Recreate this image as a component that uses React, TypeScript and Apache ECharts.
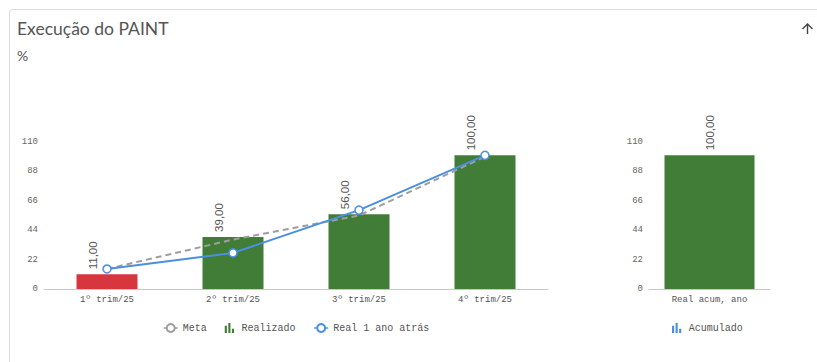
import React, { useEffect, useRef } from "react";
import * as echarts from "echarts";

const categories = ["1º trim/25", "2º trim/25", "3º trim/25", "4º trim/25"];
const realizado = [11, 39, 56, 100];
const meta = [15, 37, 55, 99];
const realAnoAnterior = [15, 27, 59, 100];
const accCategories = ["Real acum, ano"];
const acumulado = [100];

const GREEN = "#417d37";
const RED = "#d8363f";
const BLUE = "#4a8fe2";
const GRAY = "#9e9e9e";
const MONO = "'Liberation Mono', 'DejaVu Sans Mono', monospace";
const BAR_ICON = "path://M0,4h3v10h-3z M5,0h3v14h-3z M10,8h3v6h-3z";

const fmt = (v: number) => v.toFixed(2).replace(".", ",");

export default function App() {
  const ref = useRef<HTMLDivElement>(null);
  useEffect(() => {
    const chart = echarts.init(ref.current!, null, { renderer: "svg" });
    const yAxisBase = {
      type: "value",
      min: 0,
      max: 110,
      interval: 22,
      axisLine: { show: false },
      axisTick: { show: false },
      splitLine: { show: false },
      axisLabel: { color: "#666", fontFamily: MONO, fontSize: 9, margin: 6 },
    };
    const xAxisBase = {
      type: "category",
      axisLine: { lineStyle: { color: "#c8c8c8" } },
      axisTick: { show: false },
      axisLabel: { color: "#555", fontFamily: MONO, fontSize: 9, margin: 6 },
    };
    const barLabel = {
      show: true,
      position: "top",
      rotate: 90,
      distance: 5,
      align: "left",
      verticalAlign: "middle",
      color: "#555",
      fontSize: 11.5,
      fontFamily: "'Liberation Sans', Arial, sans-serif",
      formatter: (p: any) => fmt(p.value),
    };
    chart.setOption({
      animation: false,
      graphic: [
        {
          type: "text",
          left: 17,
          top: 19,
          style: { text: "Execução do PAINT", fill: "#555", font: "17.5px Lato, 'Open Sans', sans-serif" },
        },
        {
          type: "text",
          left: 17,
          top: 48,
          style: { text: "%", fill: "#555", font: "14px Lato, 'Open Sans', sans-serif" },
        },
        {
          type: "polyline",
          shape: { points: [[807.5, 24], [807.5, 34]] },
          style: { stroke: "#444", lineWidth: 1.4, fill: null },
        },
        {
          type: "polyline",
          shape: { points: [[802.5, 29], [807.5, 24], [812.5, 29]] },
          style: { stroke: "#444", lineWidth: 1.4, fill: null },
        },
      ],
      legend: [
        {
          left: 163,
          top: 323,
          padding: 0,
          itemWidth: 14,
          itemHeight: 10,
          itemGap: 18,
          textStyle: { color: "#555", fontFamily: MONO, fontSize: 10 },
          data: [
            { name: "Meta", lineStyle: { type: "solid", width: 1.5 } },
            { name: "Realizado", icon: BAR_ICON, itemStyle: { color: GREEN } },
            { name: "Real 1 ano atrás", lineStyle: { width: 1.5 } },
          ],
        },
        {
          left: 672,
          top: 323,
          padding: 0,
          itemWidth: 14,
          itemHeight: 10,
          textStyle: { color: "#555", fontFamily: MONO, fontSize: 10 },
          data: [{ name: "Acumulado", icon: BAR_ICON, itemStyle: { color: BLUE } }],
        },
      ],
      grid: [
        { left: 44, top: 142, width: 504, height: 147, containLabel: false },
        { left: 649, top: 142, width: 121, height: 147, containLabel: false },
      ],
      xAxis: [
        { ...xAxisBase, gridIndex: 0, data: categories },
        { ...xAxisBase, gridIndex: 1, data: accCategories },
      ],
      yAxis: [
        { ...yAxisBase, gridIndex: 0 },
        { ...yAxisBase, gridIndex: 1 },
      ],
      series: [
        {
          name: "Realizado",
          type: "bar",
          xAxisIndex: 0,
          yAxisIndex: 0,
          barWidth: 61,
          itemStyle: { color: GREEN },
          data: realizado.map((v, i) => (i === 0 ? { value: v, itemStyle: { color: RED } } : v)),
          label: { ...barLabel, offset: [0, -14] },
        },
        {
          name: "Meta",
          type: "line",
          xAxisIndex: 0,
          yAxisIndex: 0,
          data: meta,
          symbol: "emptyCircle",
          showSymbol: false,
          symbolSize: 7,
          itemStyle: { color: GRAY },
          lineStyle: { color: GRAY, width: 2, type: [6, 4] },
        },
        {
          name: "Real 1 ano atrás",
          type: "line",
          xAxisIndex: 0,
          yAxisIndex: 0,
          data: realAnoAnterior,
          symbol: "circle",
          symbolSize: 8,
          itemStyle: { color: "#fff", borderColor: BLUE, borderWidth: 1.5 },
          lineStyle: { color: BLUE, width: 2 },
          z: 3,
        },
        {
          name: "Acumulado",
          type: "bar",
          xAxisIndex: 1,
          yAxisIndex: 1,
          barWidth: 90,
          itemStyle: { color: GREEN },
          data: acumulado,
          label: barLabel,
        },
      ],
    });
    return () => chart.dispose();
  }, []);
  return (
    <div style={{ position: "fixed", left: 0, top: 0, width: 817, height: 362, overflow: "hidden", background: "#fff" }}>
      <div
        style={{
          position: "absolute",
          left: 9,
          top: 9,
          width: 900,
          height: 500,
          border: "1px solid #dcdcdc",
          borderRadius: 3,
        }}
      />
      <div ref={ref} style={{ position: "absolute", left: 0, top: 0, width: 817, height: 362 }} />
    </div>
  );
}
